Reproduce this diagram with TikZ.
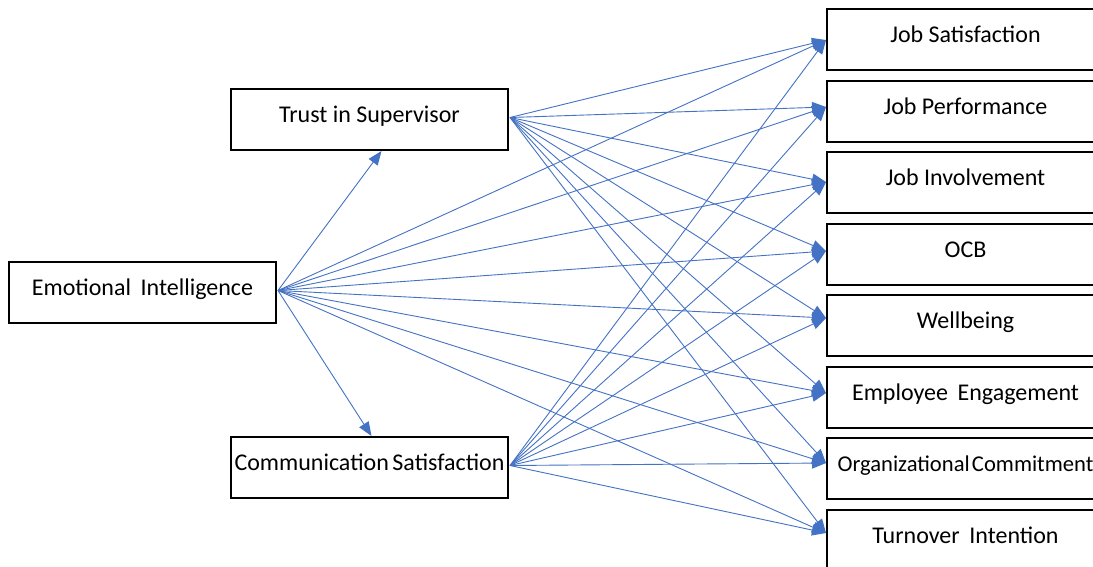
\documentclass[tikz,border=0pt]{standalone}
\usepackage{fontspec}
\setmainfont{Carlito}
\usetikzlibrary{arrows.meta,calc}

\definecolor{linkblue}{HTML}{4472C4}

\tikzset{
  box/.style={draw=black, line width=2pt, fill=white, anchor=north west,
    minimum width=277pt, minimum height=61pt, inner sep=0pt,
    text height=17pt, text depth=11pt, font=\fontsize{24pt}{28pt}\selectfont},
  link/.style={draw=linkblue, line width=0.9pt,
    -{Triangle[length=14pt,width=11pt]}}
}

\begin{document}
\begin{tikzpicture}[x=1pt,y=-1pt]
  \useasboundingbox (0,0) rectangle (1093,566);
  \clip (0,0) rectangle (1093,566);
  \fill[white] (0,0) rectangle (1093,566);

  % predictor and mediators
  \node[box, minimum width=267pt] (ei) at (8,261) {Emotional\hspace{0.4em}Intelligence};
  \node[box] (trust) at (230,88) {Trust\ in\ Supervisor};
  \node[box] (comm) at (230,436) {Communication\hspace{0.15em}Satisfaction};

  % outcomes
  \node[box] (o1) at (826,8)     {Job Satisfaction};
  \node[box] (o2) at (826,79.5)  {Job Performance};
  \node[box] (o3) at (826,151)   {Job\ Involvement};
  \node[box] (o4) at (826,222.5) {OCB};
  \node[box] (o5) at (826,294)   {Wellbeing};
  \node[box] (o6) at (826,365.5) {Employee\hspace{0.4em}Engagement};
  \node[box, font=\fontsize{22.6pt}{26pt}\selectfont] (o7) at (826,437)
    {Organizational\hspace{0.1em}Commitment};
  \node[box] (o8) at (826,508.5) {Turnover\hspace{0.4em}Intention};

  % arrow targets on the outcome boxes
  \coordinate (t1) at ($(o1.north west)+(0,32)$);
  \coordinate (t2) at ($(o2.north west)+(0,27.5)$);
  \coordinate (t3) at ($(o3.north west)+(0,31)$);
  \coordinate (t4) at ($(o4.north west)+(0,28.5)$);
  \coordinate (t5) at ($(o5.north west)+(0,24)$);
  \coordinate (t6) at ($(o6.north west)+(0,27.5)$);
  \coordinate (t7) at ($(o7.north west)+(0,26)$);
  \coordinate (t8) at ($(o8.north west)+(0,24.5)$);

  \coordinate (eiOut) at ($(ei.east)+(1,-2)$);
  \coordinate (trOut) at ($(trust.east)+(1,-2)$);
  \coordinate (coOut) at ($(comm.east)+(1,-2)$);

  % emotional intelligence to the mediators
  \draw[link] (eiOut) -- ($(trust.south)+(12,0)$);
  \draw[link] (eiOut) -- ($(comm.north)+(2,0)$);

  % paths to every outcome
  \foreach \s in {eiOut,trOut,coOut}{
    \foreach \t in {t1,t2,t3,t4,t5,t6,t7,t8}{
      \draw[link] (\s) -- (\t);
    }
  }
\end{tikzpicture}
\end{document}
